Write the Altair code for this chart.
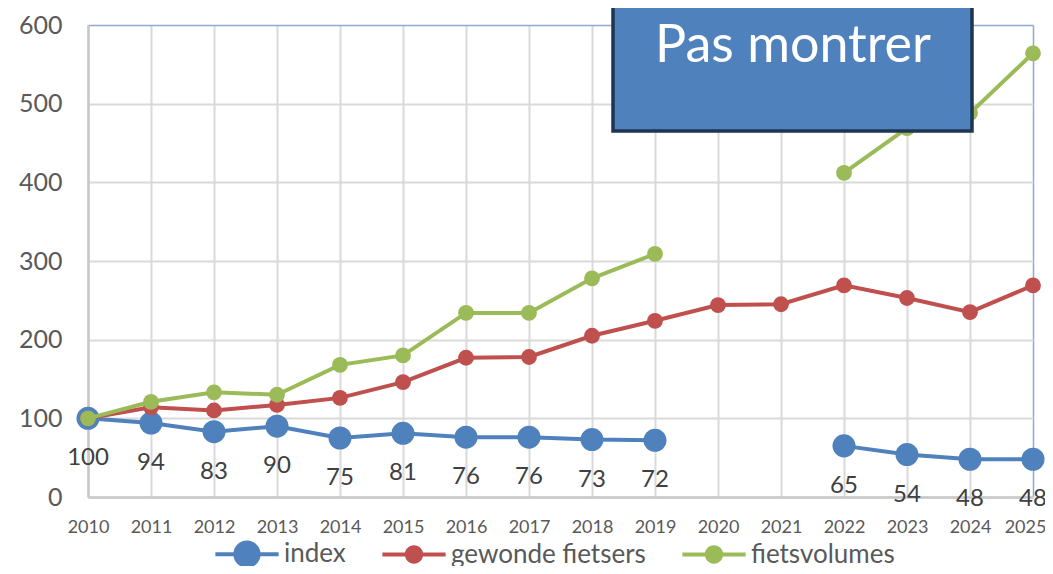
import altair as alt
import pandas as pd

years = list(range(2010, 2026))
index_vals = [100, 94, 83, 90, 75, 81, 76, 76, 73, 72, None, None, 65, 54, 48, 48]
gewonde_vals = [100, 114, 110, 117, 126, 146, 177, 178, 205, 224, 244, 245, 269, 253, 235, 269]
volume_vals = [100, 121, 133, 130, 168, 180, 234, 234, 278, 309, None, None, 412, 469, 488, 564]
series = ["index", "gewonde fietsers", "fietsvolumes"]
colors = ["#4F81BD", "#C0504D", "#9BBB59"]
y_ticks = [0, 100, 200, 300, 400, 500, 600]
box_text = "Pas montrer"

df = pd.DataFrame({"year": years, "index": index_vals,
                   "gewonde": gewonde_vals, "volumes": volume_vals})

FONT = "Lato"
GRID = "#D9D9D9"
BORDER = "#8EA9D8"

x_enc = alt.X("year:Q", scale=alt.Scale(domain=[2010, 2025], nice=False, zero=False),
              axis=alt.Axis(values=years, format="d", title=None, labelFontSize=18,
                            labelPadding=21, labelFlush=False, labelOverlap=False,
                            labelOffset={"condition": {"test": "datum.value == 2025", "value": -8}, "value": 0},
                            gridColor={"condition": {"test": "datum.value == 2025", "value": BORDER}, "value": GRID},
                            gridWidth={"condition": {"test": "datum.value == 2025", "value": 1.5}, "value": 2}))
y_scale = alt.Scale(domain=[0, 600], nice=False)
y_axis = alt.Axis(values=y_ticks, title=None, labelFontSize=25, labelPadding=26,
                  gridColor={"condition": {"test": "datum.value == 600", "value": BORDER}, "value": GRID},
                  gridWidth={"condition": {"test": "datum.value == 600", "value": 1.5}, "value": 2})

base = alt.Chart(df)

def series_layers(field, color, width, size):
    line = base.mark_line(color=color, strokeWidth=width).encode(
        x=x_enc, y=alt.Y(f"{field}:Q", scale=y_scale, axis=y_axis))
    pts = base.mark_circle(color=color, size=size, opacity=1).encode(
        x=x_enc, y=alt.Y(f"{field}:Q", scale=y_scale, axis=y_axis))
    return [line, pts]

layers = []
layers += series_layers("index", colors[0], 4, 530)
layers += series_layers("gewonde", colors[1], 4, 250)
layers += series_layers("volumes", colors[2], 4, 250)

labels = base.mark_text(font=FONT, fontSize=24, color="#404040", dy=40,
                        baseline="middle").encode(
    x=x_enc, y=alt.Y("index:Q", scale=y_scale, axis=y_axis),
    text=alt.Text("index:Q", format="d"))
layers.append(labels)

# legend driver (no visible marks)
p_big = "M-1,-0.065H1V0.065H-1Z M0.43,0A0.43,0.43 0 1,1 -0.43,0A0.43,0.43 0 1,1 0.43,0Z"
p_small = "M-1,-0.065H1V0.065H-1Z M0.29,0A0.29,0.29 0 1,1 -0.29,0A0.29,0.29 0 1,1 0.29,0Z"
leg_df = pd.DataFrame({"reeks": series})
legend_layer = alt.Chart(leg_df).mark_point(filled=True, opacity=1).encode(
    color=alt.Color("reeks:N", scale=alt.Scale(domain=series, range=colors), title=None),
    shape=alt.Shape("reeks:N", scale=alt.Scale(domain=series, range=[p_big, p_small, p_small]), title=None),
).transform_filter(alt.datum.reeks == "__none__")
layers.append(legend_layer)

box = alt.Chart(alt.Data(values=[{}])).mark_rect(
    fill="#4F81BD", stroke="#1F3552", strokeWidth=3.5).encode(
    x=alt.value(525), x2=alt.value(884), y=alt.value(-40), y2=alt.value(106))
box_label = alt.Chart(alt.Data(values=[{}])).mark_text(
    text=box_text, font=FONT, fontSize=52, color="white", align="center",
    baseline="middle").encode(x=alt.value(705), y=alt.value(21))
layers += [box, box_label]

chart = alt.layer(*layers).properties(
    width=945, height=472,
    autosize=alt.AutoSizeParams(type="none"),
    padding={"left": 80, "top": 17, "right": 12, "bottom": 69},
).configure_view(
    stroke=None
).configure_axis(
    grid=True, ticks=False,
    domainColor="#C8C8C8", domainWidth=2.5,
    labelFont=FONT, labelColor="#595959"
).configure_legend(
    orient="none", legendX=127, legendY=497, direction="horizontal",
    labelFont=FONT, labelFontSize=26, labelColor="#595959", labelLimit=400,
    symbolSize=4000, symbolStrokeWidth=0, columnPadding=36, labelOffset=5,
    padding=0
)

chart.save("out.html", embed_options={"renderer": "svg", "actions": False})
